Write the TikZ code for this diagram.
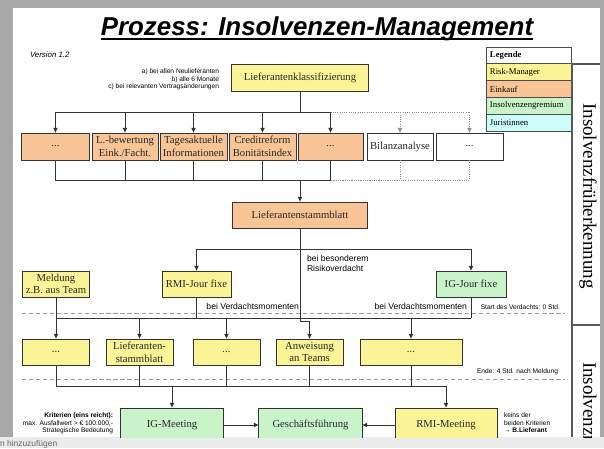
\documentclass[tikz,border=0pt]{standalone}
\usepackage{fontspec}
\setmainfont{Liberation Serif}
\setsansfont{Liberation Sans}
\usepackage{tikz}
\usetikzlibrary{arrows.meta}
\usetikzlibrary{positioning}

\definecolor{rmyellow}{HTML}{FBF496}
\definecolor{buyorange}{HTML}{F9C596}
\definecolor{iggreen}{HTML}{C9F4C9}
\definecolor{jurcyan}{HTML}{CCFCFC}
\definecolor{framegray}{HTML}{A8A8A8}

\newcommand{\boxfont}{\fontsize{7.6}{9}\selectfont}
\newcommand{\legfont}{\fontsize{6.2}{7}\selectfont}
\newcommand{\notefont}{\sffamily\fontsize{4.7}{5.4}\selectfont}
\newcommand{\labelfont}{\sffamily\fontsize{6.1}{7.2}\selectfont}

\tikzset{
% Define standard arrow tip
>={Latex[length=3.6pt, width=3.4pt]},
procbox/.style={rectangle, draw=black!80, line width=0.7pt, align=center, inner sep=0, font=\boxfont, text=black!85},
legrow/.style={rectangle, draw=black!70, line width=0.7pt, minimum height=0.42cm, text width=1.925cm, inner xsep=0.1cm, inner ysep=0, align=left, font=\legfont},
flow/.style={draw=black!80, line width=0.6pt},
dotflow/.style={draw=black!45, line width=0.6pt, densely dotted},
sepline/.style={draw=black!40, line width=0.5pt, densely dashed}
}

\begin{document}
\begin{tikzpicture}[x=0.025cm, y=-0.025cm, inner sep=0, outer sep=0]
  % frame of the slide
  \useasboundingbox (0,0) rectangle (604,448);
  \fill[framegray] (0,0) rectangle (604,437);
  \fill[white] (13,8) rectangle (600,437);
  \fill[black!8] (0,437) rectangle (604,448);

  \begin{scope}
  \clip (13,8) rectangle (600,437);

  \node[anchor=base, font=\sffamily\bfseries\itshape\fontsize{18.4}{20}\selectfont] (titel) at (317,35) {Prozess: Insolvenzen-Management};
  \draw[line width=1.5pt] ([yshift=-2.6pt]titel.base west) -- ([yshift=-2.6pt]titel.base east);

  \node[anchor=west, font=\sffamily\itshape\fontsize{5.6}{6}\selectfont] (version) at (30,55) {Version 1.2};
  \node[anchor=north east, align=right, font=\notefont] (anlass) at (219,69) {a) bei allen Neulieferanten\\b) alle 6 Monate\\c) bei relevanten Vertragsänderungen};

  % legend
  \node[legrow, font=\legfont\bfseries] (leg0) at (528.5,55.5) {Legende};
  \node[legrow, fill=rmyellow, below=0cm of leg0] (leg1) {Risk-Manager};
  \node[legrow, fill=buyorange, below=0cm of leg1] (leg2) {Einkauf};
  \node[legrow, fill=iggreen, below=0cm of leg2] (leg3) {Insolvenzengremium};
  \node[legrow, fill=jurcyan, below=0cm of leg3] (leg4) {Juristinnen};

  % phases
  \draw[draw=black!65, line width=1pt] (600,64) -- (572,64) -- (572,437);
  \draw[draw=black!65, line width=1pt] (572,325) -- (600,325);
  \node[rotate=-90, font=\fontsize{13.5}{14}\selectfont] (phase1) at (588,196) {Insolvenzfrüherkennung};
  \node[rotate=-90, anchor=west, font=\fontsize{13.5}{14}\selectfont] (phase2) at (588,362) {Insolvenzmanagement};

  % boxes
  \node[procbox, fill=rmyellow, minimum width=3.4cm, minimum height=0.675cm] (klass) at (300,77.5) {Lieferantenklassifizierung};

  \node[procbox, fill=buyorange, minimum width=1.675cm, minimum height=0.675cm] (q1) at (55.5,146.5) {...};
  \node[procbox, fill=buyorange, minimum width=1.65cm, minimum height=0.675cm] (q2) at (125,146.5) {L.-bewertung\\Eink./Facht.};
  \node[procbox, fill=buyorange, minimum width=1.675cm, minimum height=0.675cm] (q3) at (193.5,146.5) {Tagesaktuelle\\Informationen};
  \node[procbox, fill=buyorange, minimum width=1.675cm, minimum height=0.675cm] (q4) at (262.5,146.5) {Creditreform\\Bonitätsindex};
  \node[procbox, fill=buyorange, minimum width=1.625cm, minimum height=0.675cm] (q5) at (330.5,146.5) {...};
  \node[procbox, fill=white, minimum width=1.65cm, minimum height=0.675cm] (q6) at (400,146.5) {Bilanzanalyse};
  \node[procbox, fill=white, minimum width=1.675cm, minimum height=0.675cm] (q7) at (469.5,146.5) {...};

  \node[procbox, fill=buyorange, minimum width=3.35cm, minimum height=0.65cm] (stamm) at (300,215) {Lieferantenstammblatt};

  \node[procbox, fill=rmyellow, minimum width=1.65cm, minimum height=0.65cm] (meldung) at (56,284) {Meldung\\z.B. aus Team};
  \node[procbox, fill=rmyellow, minimum width=1.725cm, minimum height=0.65cm] (rmijour) at (196.5,284) {RMI-Jour fixe};
  \node[procbox, fill=iggreen, minimum width=1.75cm, minimum height=0.65cm] (igjour) at (471,284) {IG-Jour fixe};

  \node[procbox, fill=rmyellow, minimum width=1.65cm, minimum height=0.65cm] (m1) at (56,352) {...};
  \node[procbox, fill=rmyellow, minimum width=1.675cm, minimum height=0.65cm] (m2) at (139.5,352) {Lieferanten-\\stammblatt};
  \node[procbox, fill=rmyellow, minimum width=1.675cm, minimum height=0.65cm] (m3) at (226.5,352) {...};
  \node[procbox, fill=rmyellow, minimum width=1.675cm, minimum height=0.65cm] (m4) at (309.5,352) {Anweisung\\an Teams};
  \node[procbox, fill=rmyellow, minimum width=2.55cm, minimum height=0.65cm] (m5) at (411,352) {...};

  \node[procbox, fill=iggreen, minimum width=2.55cm, minimum height=0.85cm] (igmeet) at (172,425) {IG-Meeting};
  \node[procbox, fill=iggreen, minimum width=2.575cm, minimum height=0.85cm] (gf) at (310.5,425) {Geschäftsführung};
  \node[procbox, fill=rmyellow, minimum width=2.55cm, minimum height=0.85cm] (rmimeet) at (446,425) {RMI-Meeting};

  % separators
  \draw[sepline] (22,313) -- (565,313);
  \draw[sepline] (22,379) -- (565,379);
  \node[anchor=east, font=\notefont] (start) at (560,307) {Start des Verdachts: 0 Std.};
  \node[anchor=east, font=\notefont] (ende) at (558,372) {Ende: 4 Std. nach Meldung};

  % texts
  \node[anchor=north west, align=left, font=\labelfont] (besonders) at (307,255) {bei besonderem\\Risikoverdacht};
  \node[anchor=east, font=\labelfont] (verdacht1) at (299,306) {bei Verdachtsmomenten};
  \node[anchor=east, font=\labelfont] (verdacht2) at (467,306) {bei Verdachtsmomenten};
  \node[anchor=north east, align=right, font=\notefont] (kriterien) at (113,413) {\textbf{Kriterien (eins reicht):}\\max. Ausfallwert > € 100.000,-\\Strategische Bedeutung};
  \node[anchor=north west, align=left, font=\notefont] (keins) at (504,413) {keins der\\beiden Kriterien\\\textbf{→ B.Lieferant}};

  % connectors
  \coordinate (bus1) at (300,112);
  \coordinate (bus2) at (300,180);
  \coordinate (bus3) at (300,249);
  \coordinate (bus4) at (300,318);
  \coordinate (knick) at (300,321);
  \coordinate (bus5) at (300,386);

  \draw[flow] (klass) -- (bus1);
  \foreach \n in {q1,q2,q3,q4,q5}
    \draw[flow, ->] (bus1) -| (\n);
  \foreach \n in {q6,q7}
    \draw[dotflow, ->] (q5 |- bus1) -| (\n);
  \foreach \n in {q1,q2,q3,q4,q5}
    \draw[flow] (\n) |- (bus2);
  \foreach \n in {q6,q7}
    \draw[dotflow] (\n) |- (q5 |- bus2);
  \draw[flow, ->] (bus2) -- (stamm);

  \draw[flow] (stamm) -- (bus3);
  \draw[flow, ->] (bus3) -| (rmijour);
  \draw[flow, ->] (bus3) -| (igjour);
  \draw[flow, ->] (bus3) -- (knick) -| (m4);

  \draw[flow] (meldung) |- (igjour |- bus4);
  \draw[flow] (rmijour) -- (rmijour |- bus4);
  \draw[flow] (igjour) -- (igjour |- bus4);
  \foreach \n in {m1,m2,m3,m5}
    \draw[flow, ->] (\n |- bus4) -- (\n);

  \foreach \n in {m1,m2,m3,m4,m5}
    \draw[flow] (\n) -- (\n |- bus5);
  \draw[flow] (m1 |- bus5) -- (rmimeet |- bus5);
  \draw[flow, ->] (igmeet |- bus5) -- (igmeet);
  \draw[flow, ->] (rmimeet |- bus5) -- (rmimeet);
  \draw[flow, ->] (igmeet) -- (gf);
  \draw[flow, ->] (rmimeet) -- (gf);
  \end{scope}

  \node[anchor=west, font=\sffamily\fontsize{6}{6}\selectfont, text=black!60] (notiz) at (0,444) {n hinzuzufügen};
\end{tikzpicture}
\end{document}
